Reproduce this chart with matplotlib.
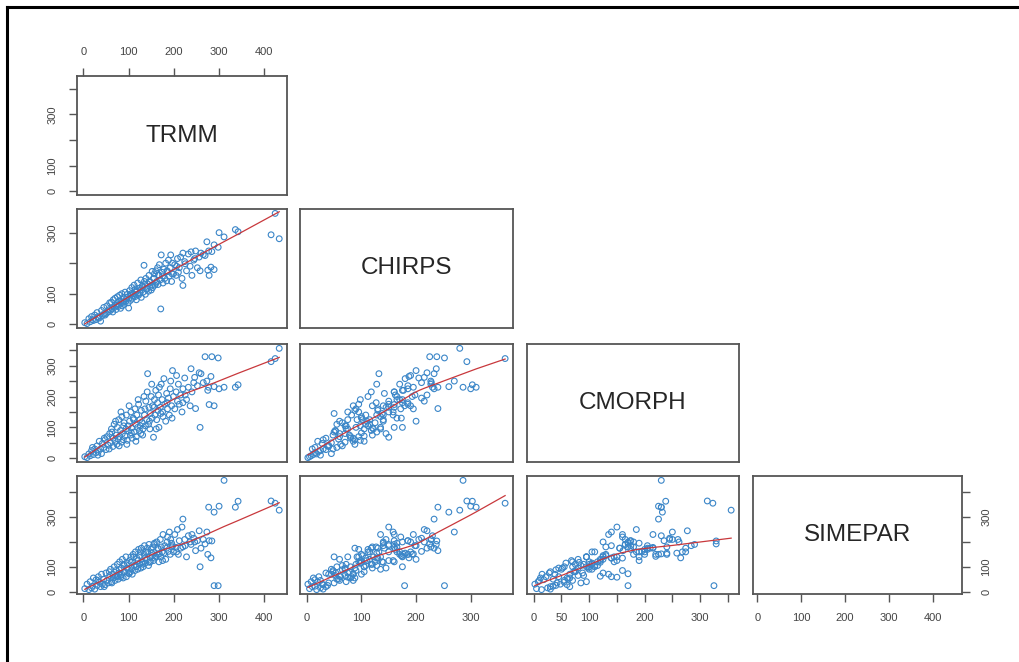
import numpy as np
import matplotlib
matplotlib.use('Agg')
import matplotlib.pyplot as plt
from matplotlib.lines import Line2D

# ---------------- data (monthly rainfall, mm) ----------------
trmm = [3, 8, 12, 15, 18, 22, 25, 28, 30, 33, 35, 38, 40, 42, 45, 48, 50, 52, 55, 58,
        60, 62, 65, 66, 68, 70, 72, 74, 75, 77, 78, 80, 82, 84, 85, 86, 88, 90, 92, 94, 95, 97, 99, 100,
        102, 104, 105, 107, 108, 110, 112, 114, 115, 117, 118, 120, 122, 124, 125, 127, 128, 130, 132, 134,
        135, 137, 138, 140, 142, 144, 145, 147, 148, 150,
        152, 153, 155, 157, 158, 160, 162, 164, 165, 167, 168, 170, 171, 172, 174, 176, 178, 180, 182, 184,
        186, 188, 190, 192, 193, 195, 197, 199,
        202, 205, 208, 210, 212, 215, 218, 220, 220, 224, 228, 232, 236, 238, 240, 244, 248, 252, 256, 258, 260,
        265, 269, 273, 275, 277, 278, 282, 284, 289, 289, 298, 300, 311, 336, 342, 415, 433, 424,
        20, 32, 46, 57, 63, 71, 79, 83, 89, 96, 101, 106, 111, 116, 121, 126, 131, 136, 141, 146,
        151, 156, 161, 166, 175, 185, 196, 206, 225, 246]
chirps = [5, 2, 18, 8, 25, 12, 30, 15, 38, 22, 20, 10, 45, 28, 55, 30, 35, 60, 40, 70,
          45, 72, 40, 80, 55, 85, 48, 62, 90, 58, 75, 95, 52, 70, 100, 60, 88, 65, 105, 75, 82, 98, 70, 53,
          110, 78, 95, 120, 85, 100, 128, 90, 115, 80, 108, 135, 95, 118, 102, 145, 88, 125, 105, 193,
          140, 98, 150, 115, 132, 108, 160, 122, 138, 112,
          173, 120, 150, 165, 128, 175, 140, 185, 130, 160, 195, 145, 50, 227, 170, 135, 180, 150, 200, 142,
          172, 210, 158, 185, 227, 140, 200, 165,
          195, 160, 215, 170, 185, 220, 150, 233, 127, 205, 175, 230, 190, 237, 160, 210, 240, 185, 220, 175, 233,
          228, 225, 270, 177, 240, 160, 187, 238, 179, 260, 252, 300, 286, 310, 303, 293, 280, 363,
          15, 25, 35, 48, 50, 60, 65, 75, 72, 88, 85, 100, 92, 105, 98, 112, 120, 130, 118, 140,
          128, 150, 135, 162, 158, 175, 165, 190, 198, 215]
cmorph = [5, 2, 14, 8, 25, 12, 30, 18, 40, 22, 55, 30, 15, 48, 35, 60, 28, 70, 42, 80,
          50, 95, 38, 65, 110, 55, 75, 45, 100, 62, 125, 70, 90, 52, 135, 80, 60, 115, 72, 95, 140, 58, 105, 88,
          120, 75, 150, 98, 65, 130, 85, 160, 110, 70, 140, 100, 175, 90, 125, 80, 155, 115, 95, 200,
          140, 105, 185, 125, 274, 110, 165, 95, 145, 200,
          130, 170, 68, 190, 140, 220, 125, 180, 155, 100, 230, 165, 145, 240, 190, 135, 258, 175, 120, 210,
          160, 195, 140, 225, 250, 170, 284, 200,
          160, 215, 185, 240, 175, 205, 150, 225, 180, 260, 190, 230, 170, 290, 215, 245, 161, 235, 277, 100, 274,
          245, 329, 250, 220, 230, 174, 265, 329, 170, 232, 325, 225, 230, 230, 238, 313, 356, 323,
          35, 10, 65, 30, 85, 120, 40, 150, 105, 45, 170, 82, 125, 55, 190, 105, 75, 160, 215, 120,
          240, 165, 95, 205, 150, 180, 130, 268, 205, 262]
simepar = [12, 30, 8, 40, 15, 55, 10, 48, 25, 60, 38, 20, 70, 30, 50, 28, 75, 45, 35, 65,
           90, 40, 70, 55, 100, 45, 85, 60, 110, 50, 75, 120, 65, 95, 70, 130, 55, 105, 80, 140, 60, 115, 90, 75,
           125, 80, 140, 95, 70, 150, 105, 85, 160, 100, 135, 90, 170, 110, 145, 95, 175, 120, 100, 150,
           185, 115, 160, 130, 160, 105, 190, 140, 120, 170,
           145, 180, 125, 195, 135, 142, 200, 150, 175, 120, 152, 210, 140, 180, 160, 230, 155, 185, 130, 175,
           220, 162, 240, 150, 210, 195, 185, 160,
           230, 178, 250, 150, 205, 175, 260, 292, 180, 210, 140, 225, 200, 190, 230, 215, 165, 205, 245, 100, 175,
           210, 192, 240, 150, 340, 205, 136, 204, 24, 320, 24, 344, 448, 340, 364, 365, 328, 356,
           22, 45, 20, 80, 35, 62, 88, 58, 110, 95, 72, 118, 140, 100, 125, 160, 110, 135, 175, 118,
           155, 190, 140, 170, 125, 200, 180, 160, 185, 200]

var_names = ['TRMM', 'CHIRPS', 'CMORPH', 'SIMEPAR']
data = [np.array(trmm, float), np.array(chirps, float),
        np.array(cmorph, float), np.array(simepar, float)]

tick_values = [[0, 100, 200, 300, 400],
               [0, 100, 200, 300],
               [0, 50, 100, 150, 200, 250, 300, 350],
               [0, 100, 200, 300, 400]]
# labels R kept on horizontal (x) axes and vertical (y) axes
x_tick_labels = [['0', '100', '200', '300', '400'],
                 ['0', '100', '200', '300'],
                 ['0', '50', '100', '', '200', '', '300', ''],
                 ['0', '100', '200', '300', '400']]
y_tick_labels = [['0', '100', '', '300', ''],
                 ['0', '100', '', '300'],
                 ['0', '', '100', '', '200', '', '300', ''],
                 ['0', '100', '', '300', '']]


def lowess(x, y, f=2/3, it=3):
    o = np.argsort(x, kind='mergesort')
    x = x[o]; y = y[o]
    n = len(x)
    ns = max(min(int(f * n + 1e-7), n), 2)
    yest = np.zeros(n)
    rw = np.ones(n)
    for k in range(it + 1):
        for i in range(n):
            d = np.abs(x - x[i])
            h = max(np.sort(d)[ns - 1], 1e-9)
            u = np.clip(d / h, 0, 1)
            w = (1 - u ** 3) ** 3 * rw
            sw = w.sum()
            xm = (w * x).sum() / sw
            ym = (w * y).sum() / sw
            sxx = (w * (x - xm) ** 2).sum()
            b = (w * (x - xm) * (y - ym)).sum() / sxx if sxx > 1e-9 else 0.0
            yest[i] = ym + b * (x[i] - xm)
        res = y - yest
        s = np.median(np.abs(res))
        if s == 0:
            break
        uu = np.clip(res / (6 * s), -1, 1)
        rw = (1 - uu ** 2) ** 2
    return x, yest


def rng(v):
    lo, hi = v.min(), v.max()
    e = 0.04 * (hi - lo)
    return lo - e, hi + e


W, H = 1019, 662
fig = plt.figure(figsize=(W / 100, H / 100), dpi=100)
plt.rcParams['font.family'] = ['Liberation Sans', 'DejaVu Sans']

col_left = [77, 300, 527, 753]
col_width = [210, 213, 212, 209]
row_top = [76, 209, 344, 476]
row_h = [119, 119, 118, 118]

frame_c = '#555555'
tick_c = '#555555'
lab_c = '#444444'
tfs = 8

for i in range(4):
    for j in range(i + 1):
        ax = fig.add_axes([col_left[j] / W, 1 - (row_top[i] + row_h[i]) / H,
                           col_width[j] / W, row_h[i] / H])
        ax.set_xlim(*rng(data[j]))
        ax.set_ylim(*rng(data[i]))
        for sp in ax.spines.values():
            sp.set_color(frame_c)
            sp.set_linewidth(1.3)
        ax.tick_params(which='both', direction='out', length=6, width=1.0,
                       color=tick_c, labelcolor=lab_c, labelsize=tfs, pad=8,
                       bottom=False, top=False, left=False, right=False,
                       labelbottom=False, labeltop=False, labelleft=False, labelright=False)
        ax.set_xticks(tick_values[j])
        ax.set_xticklabels(x_tick_labels[j])
        ax.set_yticks(tick_values[i])
        ax.set_yticklabels(y_tick_labels[i], rotation=90, va='center')
        if i == j:
            ax.text(0.5, 0.5, var_names[i], transform=ax.transAxes, ha='center',
                    va='center', fontsize=17.5, color='#262626')
        else:
            ax.scatter(data[j], data[i], s=17, facecolors='none',
                       edgecolors='#3b86c8', linewidths=0.8, zorder=2)
            lx, ly = lowess(data[j], data[i])
            ax.plot(lx, ly, color='#c8383c', lw=0.9, zorder=3)
        if i == 0 and j == 0:
            ax.tick_params(top=True, labeltop=True)
        if i == 3:
            ax.tick_params(bottom=True, labelbottom=True)
        if j == 0:
            ax.tick_params(left=True, labelleft=True)
        if i == 3 and j == 3:
            ax.tick_params(right=True, labelright=True)
            for t in ax.get_yticklabels():
                t.set_rotation(90)
                t.set_va('center')

# page border (top and left edges visible)
fig.add_artist(Line2D([7 / W, 1], [1 - 7 / H, 1 - 7 / H], transform=fig.transFigure,
                      color='black', lw=2.2))
fig.add_artist(Line2D([7 / W, 7 / W], [0, 1 - 7 / H], transform=fig.transFigure,
                      color='black', lw=2.2))

fig.savefig('out.png', dpi=100, facecolor='white')
